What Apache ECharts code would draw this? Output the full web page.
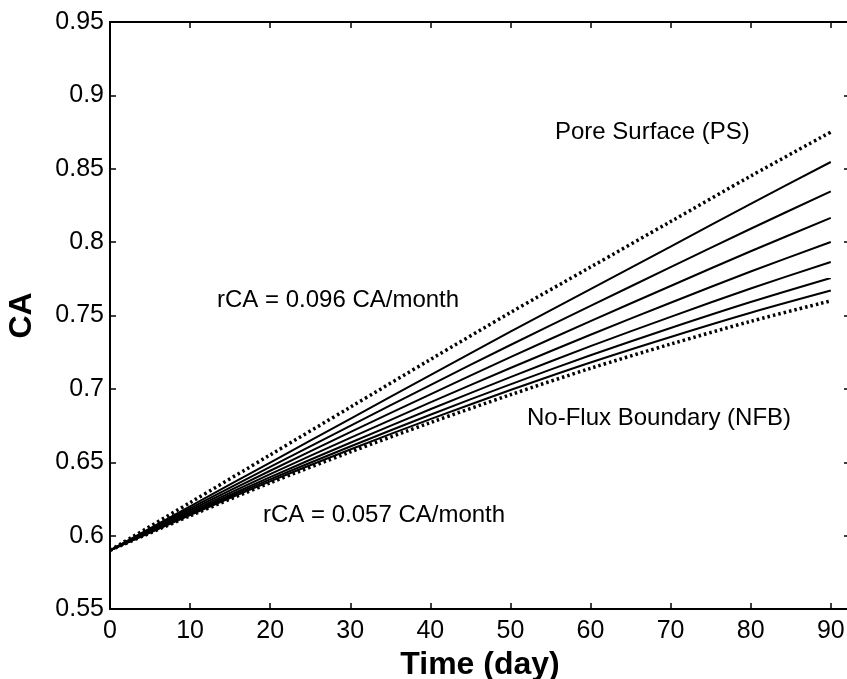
<!DOCTYPE html>
<html><head><meta charset="utf-8">
<script src="https://cdn.jsdelivr.net/npm/echarts@6/dist/echarts.min.js"></script>
<style>html,body{margin:0;padding:0;background:#fff}#c{width:847px;height:679px}</style>
</head><body><div id="c"></div>
<script>
var days = [0, 10, 20, 30, 40, 50, 60, 70, 80, 90];
var xTicks = [0, 10, 20, 30, 40, 50, 60, 70, 80, 90];
var yTicks = [0.55, 0.6, 0.65, 0.7, 0.75, 0.8, 0.85, 0.9, 0.95];
var poreSurface = [0.59, 0.6225, 0.655, 0.6875, 0.72, 0.752, 0.783, 0.814, 0.845, 0.875];
var depth1 = [0.59, 0.6199, 0.6498, 0.6796, 0.7094, 0.739, 0.768, 0.7969, 0.8261, 0.8546];
var depth2 = [0.59, 0.6186, 0.6469, 0.6748, 0.7026, 0.7299, 0.7566, 0.7829, 0.8091, 0.8346];
var depth3 = [0.59, 0.6173, 0.6442, 0.6705, 0.6963, 0.7216, 0.7462, 0.7701, 0.7938, 0.8165];
var depth4 = [0.59, 0.6162, 0.6419, 0.6666, 0.6908, 0.7142, 0.7369, 0.7587, 0.78, 0.8001];
var depth5 = [0.59, 0.6153, 0.6399, 0.6633, 0.6861, 0.708, 0.7291, 0.7491, 0.7684, 0.7865];
var depth6 = [0.59, 0.6146, 0.6383, 0.6607, 0.6824, 0.7031, 0.7229, 0.7415, 0.7592, 0.7756];
var depth7 = [0.59, 0.614, 0.637, 0.6587, 0.6794, 0.6992, 0.718, 0.7354, 0.7519, 0.767];
var noFlux = [0.59, 0.6135, 0.636, 0.657, 0.677, 0.696, 0.714, 0.7305, 0.746, 0.760];

var FONT = '"Liberation Sans", Arial, Helvetica, sans-serif';
function pairs(arr){ return days.map(function(d,i){ return [d, arr[i]]; }); }
function solid(name, arr){
  return {name:name, type:'line', data:pairs(arr), smooth:0.3, symbol:'none',
    lineStyle:{color:'#000', width:2, type:'solid'}, z:3};
}
function dotted(name, arr){
  return {name:name, type:'line', data:pairs(arr), smooth:0.3, symbol:'none',
    lineStyle:{color:'#000', width:3.5, type:[2.5,3]}, z:4};
}
var tickStyle = {show:true, inside:true, length:6, lineStyle:{color:'#000', width:1.5}};
var lineStyleAx = {show:true, onZero:false, lineStyle:{color:'#000', width:2}};

var chart = echarts.init(document.getElementById('c'), null, {renderer:'canvas'});
chart.setOption({
  backgroundColor:'#fff',
  animation:false,
  grid:{left:110, top:22, width:740, height:587, outerBoundsMode:'none', containLabel:false},
  xAxis:[{
    type:'value', min:0, max:92.4, interval:10, position:'bottom',
    axisLine:lineStyleAx, axisTick:tickStyle, splitLine:{show:false},
    axisLabel:{color:'#000', fontFamily:FONT, fontSize:25, margin:10, showMaxLabel:false,
      formatter:function(v){ return xTicks.indexOf(Math.round(v))>=0 && Math.abs(v-Math.round(v))<1e-6 ? String(Math.round(v)) : ''; }},
    name:'Time (day)', nameLocation:'middle', nameGap:39,
    nameTextStyle:{color:'#000', fontFamily:FONT, fontSize:32, fontWeight:'bold'}
  },{
    type:'value', min:0, max:92.4, interval:10, position:'top',
    axisLine:lineStyleAx, axisTick:tickStyle, axisLabel:{show:false}, splitLine:{show:false}
  }],
  yAxis:[{
    type:'value', min:0.55, max:0.95, interval:0.05, position:'left',
    axisLine:lineStyleAx, axisTick:tickStyle, splitLine:{show:false},
    axisLabel:{color:'#000', fontFamily:FONT, fontSize:25, margin:6,
      formatter:function(v){ return String(+v.toFixed(2)); }},
    name:'CA', nameLocation:'middle', nameGap:72, nameRotate:90,
    nameTextStyle:{color:'#000', fontFamily:FONT, fontSize:32, fontWeight:'bold'}
  },{
    type:'value', min:0.55, max:0.95, interval:0.05, position:'right',
    axisLine:lineStyleAx, axisTick:tickStyle, axisLabel:{show:false}, splitLine:{show:false}
  }],
  graphic:[
    {type:'text', left:555, top:120, style:{text:'Pore Surface (PS)', fill:'#000', font:'24px '+FONT}},
    {type:'text', left:217, top:288, style:{text:'rCA = 0.096 CA/month', fill:'#000', font:'24px '+FONT}},
    {type:'text', left:527, top:406, style:{text:'No-Flux Boundary (NFB)', fill:'#000', font:'24px '+FONT}},
    {type:'text', left:263, top:503, style:{text:'rCA = 0.057 CA/month', fill:'#000', font:'24px '+FONT}}
  ],
  series:[
    dotted('PS', poreSurface),
    solid('d1', depth1), solid('d2', depth2), solid('d3', depth3), solid('d4', depth4),
    solid('d5', depth5), solid('d6', depth6), solid('d7', depth7),
    dotted('NFB', noFlux)
  ]
});
</script></body></html>
